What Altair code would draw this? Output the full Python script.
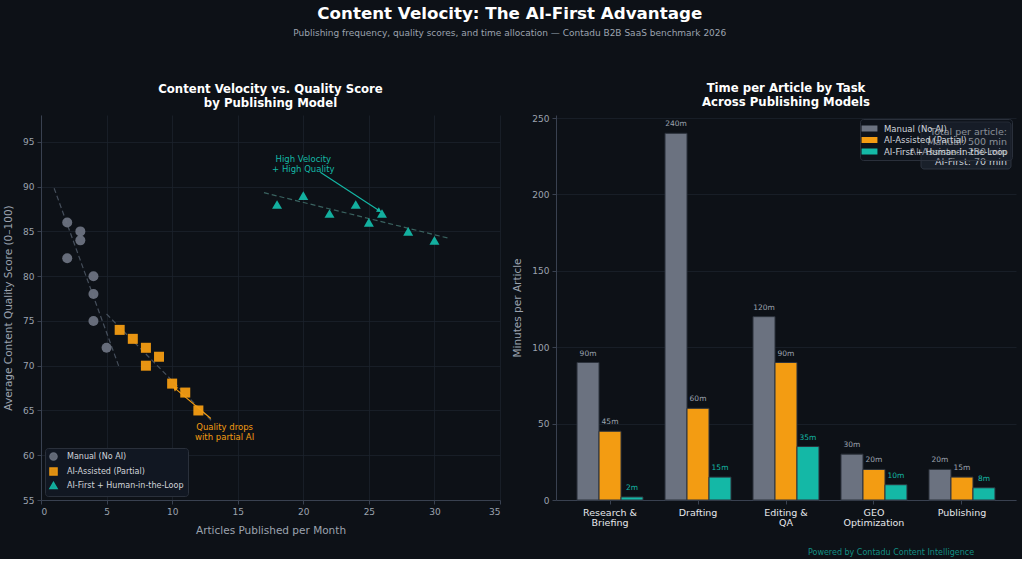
import math
import altair as alt
import pandas as pd

# ---------------- data ----------------
models = ["Manual (No AI)", "AI-Assisted (Partial)", "AI-First + Human-in-the-Loop"]

manual_x = [2, 3, 3, 2, 4, 4, 4, 5]
manual_y = [86, 85, 84, 82, 80, 78, 75, 72]
assisted_x = [6, 7, 8, 9, 8, 10, 11, 12]
assisted_y = [74, 73, 72, 71, 70, 68, 67, 65]
first_x = [18, 20, 22, 24, 25, 26, 28, 30]
first_y = [88, 89, 87, 88, 86, 87, 85, 84]

tasks = ["Research &\nBriefing", "Drafting", "Editing &\nQA", "GEO\nOptimization", "Publishing"]
manual_min = [90, 240, 120, 30, 20]
assisted_min = [45, 60, 90, 20, 15]
first_min = [2, 15, 35, 10, 8]

# annotations (data units of the scatter)
ann_text = ["High Velocity\n+ High Quality", "Quality drops\nwith partial AI"]
ann_text_x = [20, 14]
ann_text_y = [92.5, 63.6]
ann_from_x = [21.3, 12.95]
ann_from_y = [91.6, 64.1]
ann_to_x = [25.8, 10.2]
ann_to_y = [87.3, 67.5]

# ---------------- style ----------------
BG = "#0d1117"
GRAY = "#6b7280"
ORANGE = "#f39c12"
TEAL = "#14b8a6"
GRID = "#1c222c"
AXIS = "#394150"
TXT = "#9ca3af"
FONT = "DejaVu Sans"

LW, LH = 459, 385
X_DOM = [0, 35]
Y_DOM = [55, 98]

# ---------------- scatter ----------------
rows = []
for m, xs, ys in zip(models, [manual_x, assisted_x, first_x], [manual_y, assisted_y, first_y]):
    for a, b in zip(xs, ys):
        rows.append({"x": a, "y": b, "model": m})
sdf = pd.DataFrame(rows)

xenc = alt.X("x:Q", scale=alt.Scale(domain=X_DOM, nice=False),
             axis=alt.Axis(values=list(range(0, 36, 5)), title="Articles Published per Month"))
yenc = alt.Y("y:Q", scale=alt.Scale(domain=Y_DOM, nice=False),
             axis=alt.Axis(values=list(range(55, 96, 5)), title="Average Content Quality Score (0–100)"))

color_scale = alt.Scale(domain=models, range=[GRAY, ORANGE, TEAL])

trend_colors = ["#4b5563", "#4b5563", "#3f6b68"]
trends = []
for m, xs, col in zip(models, [manual_x, assisted_x, first_x], trend_colors):
    trends.append(
        alt.Chart(sdf)
        .transform_filter(alt.datum.model == m)
        .transform_regression("x", "y", extent=[min(xs) - 1, max(xs) + 1])
        .mark_line(strokeDash=[5, 3], strokeWidth=1.2, color=col, opacity=0.9)
        .encode(x=xenc, y=yenc)
    )

points = alt.Chart(sdf).mark_point(filled=True, opacity=0.95, size=100).encode(
    x=xenc, y=yenc,
    color=alt.Color("model:N", scale=color_scale, sort=models,
                    legend=alt.Legend(title=None, orient="bottom-left", offset=4,
                                      fillColor="#111722", strokeColor="#2a303b",
                                      padding=4, labelColor="#d1d5db", labelFontSize=8,
                                      labelFont=FONT, symbolSize=50, rowPadding=0,
                                      symbolOpacity=1, cornerRadius=3, labelOffset=9)),
    shape=alt.Shape("model:N", sort=models,
                    scale=alt.Scale(domain=models, range=["circle", "square", "triangle-up"])),
)

# arrows
adf = pd.DataFrame({
    "text": ann_text, "tx": ann_text_x, "ty": ann_text_y,
    "x1": ann_from_x, "y1": ann_from_y, "x2": ann_to_x, "y2": ann_to_y,
    "model": [models[2], models[1]],
})
px_x = LW / (X_DOM[1] - X_DOM[0])
px_y = LH / (Y_DOM[1] - Y_DOM[0])
angles = []
for a, b, c, d in zip(ann_from_x, ann_from_y, ann_to_x, ann_to_y):
    dx = (c - a) * px_x
    dy = -(d - b) * px_y
    angles.append((math.degrees(math.atan2(dx, -dy)) + 360) % 360)
adf["angle"] = angles

arrow_lines = alt.Chart(adf).mark_rule(strokeWidth=1.1).encode(
    x=alt.X("x1:Q", scale=alt.Scale(domain=X_DOM, nice=False)),
    y=alt.Y("y1:Q", scale=alt.Scale(domain=Y_DOM, nice=False)),
    x2="x2:Q", y2="y2:Q",
    color=alt.Color("model:N", scale=color_scale, legend=None),
)
arrow_heads = alt.Chart(adf).mark_point(shape="triangle-up", filled=True, size=28, opacity=1).encode(
    x="x2:Q", y="y2:Q",
    angle=alt.Angle("angle:Q", scale=None),
    color=alt.Color("model:N", scale=color_scale, legend=None),
)
ann_top = alt.Chart(adf).transform_filter(alt.datum.model == models[2]).mark_text(
    fontSize=8.5, font=FONT, lineBreak="\n", align="center", baseline="bottom", lineHeight=10
).encode(x="tx:Q", y="ty:Q", text="text:N",
         color=alt.Color("model:N", scale=color_scale, legend=None))
ann_bottom = alt.Chart(adf).transform_filter(alt.datum.model == models[1]).mark_text(
    fontSize=8.5, font=FONT, lineBreak="\n", align="center", baseline="top", lineHeight=10
).encode(x="tx:Q", y="ty:Q", text="text:N",
         color=alt.Color("model:N", scale=color_scale, legend=None))

left = alt.layer(*trends, points, arrow_lines, arrow_heads, ann_top, ann_bottom).properties(
    width=LW, height=LH,
    title=alt.Title(["Content Velocity vs. Quality Score", "by Publishing Model"],
                    fontSize=11.7, fontWeight="bold", color="white", font=FONT,
                    anchor="middle", frame="group", offset=5.5, lineHeight=13.5),
)

# ---------------- bars ----------------
brows = []
for m, vals in zip(models, [manual_min, assisted_min, first_min]):
    for t, v in zip(tasks, vals):
        brows.append({"task": t, "model": m, "minutes": v, "label": f"{v}m"})
bdf = pd.DataFrame(brows)

RW, RH = 460, 385
bx = alt.X("task:N", sort=tasks, scale=alt.Scale(paddingInner=0, paddingOuter=0.114),
           axis=alt.Axis(title=None, labelAngle=0, labelExpr="split(datum.label, '\\n')",
                         labelColor="#e5e7eb", labelFontSize=9.5, labelLineHeight=10.5, grid=False))
bxo = alt.XOffset("model:N", sort=models, scale=alt.Scale(paddingOuter=0.5, paddingInner=0))
by = alt.Y("minutes:Q", scale=alt.Scale(domain=[0, 252], nice=False),
           axis=alt.Axis(values=[0, 50, 100, 150, 200, 250], title="Minutes per Article"))

bars = alt.Chart(bdf).mark_bar(stroke="#2c323c", strokeWidth=1).encode(
    x=bx, xOffset=bxo, y=by,
    color=alt.Color("model:N", scale=color_scale, sort=models,
                    legend=alt.Legend(title=None, orient="top-right", offset=4,
                                      fillColor="rgba(17,23,34,0.35)", strokeColor="#2a303b",
                                      padding=4, labelColor="#d1d5db", labelFontSize=8.5,
                                      labelFont=FONT, rowPadding=1.5, cornerRadius=3,
                                      labelOffset=9,
                                      symbolType="M-1.45,-0.55L1.45,-0.55L1.45,0.55L-1.45,0.55Z",
                                      symbolSize=120, symbolStrokeWidth=0)),
)
blabels = alt.Chart(bdf).mark_text(fontSize=7.5, font=FONT, baseline="bottom", dy=-5).encode(
    x=bx, xOffset=bxo, y=by, text="label:N",
    color=alt.Color("model:N", scale=alt.Scale(domain=models, range=[TXT, TXT, TEAL]), legend=None),
)

totals_text = "Total per article:\nManual: {} min\nAI-Assisted: {} min\nAI-First: {} min".format(
    sum(manual_min), sum(assisted_min), sum(first_min))
box = alt.Chart(pd.DataFrame({"t": [totals_text]})).mark_rect(
    fill="#1f2733", opacity=0.7, stroke="#3a4250", strokeWidth=1, cornerRadius=3
).encode(x=alt.value(365), x2=alt.value(455), y=alt.value(7), y2=alt.value(54))
totals = alt.Chart(pd.DataFrame({"t": [totals_text]})).mark_text(
    align="right", baseline="middle", lineBreak="\n", lineHeight=10, fontSize=9.5,
    font=FONT, color="#c9ced6"
).encode(x=alt.value(451), y=alt.value(17), text="t:N")
footer = alt.Chart(pd.DataFrame({"t": ["Powered by Contadu Content Intelligence"]})).mark_text(
    fontSize=8, font=FONT, color=TEAL, opacity=0.75, align="center", baseline="middle"
).encode(x=alt.value(335), y=alt.value(438), text="t:N")

right = alt.layer(bars, blabels, box, totals, footer).resolve_scale(color="independent").properties(
    width=RW, height=RH,
    title=alt.Title(["Time per Article by Task", "Across Publishing Models"],
                    fontSize=11.7, fontWeight="bold", color="white", font=FONT,
                    anchor="middle", frame="group", offset=5.5, lineHeight=13.5),
)

chart = alt.hconcat(left, right, spacing=11).properties(
    title=alt.Title("Content Velocity: The AI-First Advantage",
                    subtitle="Publishing frequency, quality scores, and time allocation — Contadu B2B SaaS benchmark 2026",
                    fontSize=16.7, fontWeight="bold", color="white", font=FONT,
                    subtitleColor=TXT, subtitleFontSize=9, subtitleFont=FONT,
                    subtitlePadding=7, anchor="middle", offset=45),
    padding={"left": 3, "top": 5, "right": 6, "bottom": 2},
).configure(background=BG, font=FONT).configure_view(stroke=None).configure_axis(
    domainColor=AXIS, tickColor=AXIS, tickSize=4, labelColor=TXT, labelFontSize=9,
    labelFont=FONT, titleColor=TXT, titleFontSize=10.5, titleFont=FONT, titleFontWeight="normal",
    gridColor=GRID, gridWidth=0.8, labelPadding=3, titlePadding=9,
)

chart.save("out.html", embed_options={"renderer": "svg", "actions": False})
